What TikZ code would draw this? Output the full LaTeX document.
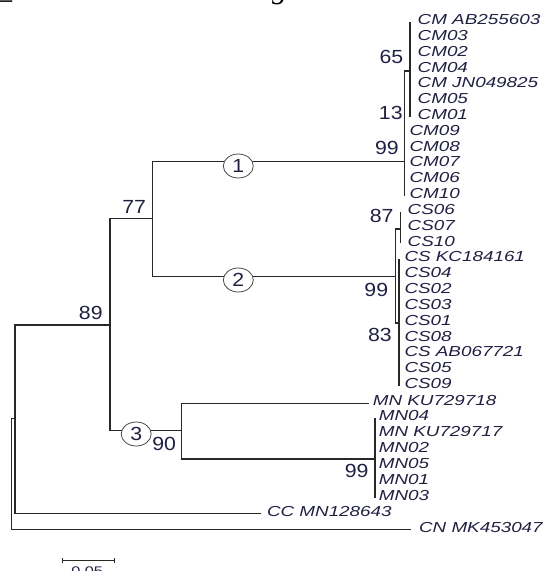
\documentclass[tikz,border=0pt]{standalone}
\usepackage{fontspec}
\setmainfont{Liberation Serif}
\newfontfamily\leaffont[FakeStretch=1.3]{Liberation Sans}
\newfontfamily\bootfont[FakeStretch=1.12]{Liberation Sans}
\usepackage{tikz}
\usetikzlibrary{shapes.geometric,arrows.meta}
\definecolor{txt}{RGB}{32,32,66}
\definecolor{branch}{RGB}{40,40,40}

\begin{document}
\begin{tikzpicture}[x=1pt,y=-1pt,
        br/.style={draw=branch,line width=1.1pt},
        leaf/.style={font=\leaffont\itshape\fontsize{14.5}{16}\selectfont,text=txt,inner sep=0pt,anchor=west,text height=10.4pt,text depth=5.2pt},
        boot/.style={font=\bootfont\fontsize{19}{21}\selectfont,text=txt,inner sep=0pt},
        clade/.style={boot,ellipse,draw=branch!85,line width=0.8pt,fill=white,minimum width=30pt,minimum height=24pt}]
        \useasboundingbox (0,0) rectangle (545,571);
        \begin{scope}
        \clip (0,0) rectangle (545,571);
        % caption line cut off at the top
        \node[anchor=south west,inner sep=0pt,text height=20pt,text depth=7pt,font=\fontsize{30}{32}\selectfont] (cap) at (-3,5.5) {\_KU729718 và \textit{M. neogamma}};
        % inner nodes
        \coordinate (nR) at (11.7,418.3);
        \coordinate (nA) at (15,418.3);
        \coordinate (nB) at (110,325);
        \coordinate (nC) at (152.7,218.3);
        \coordinate (nD) at (404.5,161.7);
        \coordinate (nD1) at (410,71);
        \coordinate (nE) at (395.3,276.7);
        \coordinate (nE1) at (400.7,229);
        \coordinate (nE2) at (399,323);
        \coordinate (nF) at (181.7,430.5);
        \coordinate (nF1) at (375,459);
        % leaves
        \foreach \lab [count=\k from 0] in {CM AB255603,CM03,CM02,CM04,CM JN049825,CM05,CM01}
            \node[leaf] (cm\k) at (417.5,22+15.82*\k) {\lab};
        \foreach \lab [count=\k from 7] in {CM09,CM08,CM07,CM06,CM10}
            \node[leaf] (cm\k) at (409.3,22+15.82*\k) {\lab};
        \foreach \lab [count=\k from 12] in {CS06,CS07,CS10}
            \node[leaf] (cs\k) at (407.5,22+15.82*\k) {\lab};
        \foreach \lab [count=\k from 15] in {CS KC184161,CS04,CS02,CS03,CS01,CS08,CS AB067721,CS05,CS09}
            \node[leaf] (cs\k) at (404.3,22+15.82*\k) {\lab};
        \foreach \lab [count=\k from 0] in {MN04,MN KU729717,MN02,MN05,MN01,MN03}
            \node[leaf] (mn\k) at (378.6,418+16*\k) {\lab};
        \node[leaf] (mnA) at (372.6,403.3) {MN KU729718};
        \node[leaf] (cc) at (266.8,513.5) {CC MN128643};
        \node[leaf] (cn) at (418.9,529.5) {CN MK453047};
        % branches
        \draw[br] (nA) -- (nR) |- ([xshift=-8pt]cn.west);
        \draw[br] (nA) |- (nB);
        \draw[br] (nA) |- ([xshift=-6pt]cc.west);
        \draw[br] (nB) |- (nC);
        \draw[br] (nB) |- (nF);
        \draw[br] (nC) |- (nD);
        \draw[br] (nC) |- (nE);
        \draw[br] (nD) |- (nD1);
        \draw[br] (nD) -- (nD |- cm11.west);
        \draw[br] (nD1 |- cm0.west) -- (nD1 |- cm6.west);
        \draw[br] (nE) |- (nE1);
        \draw[br] (nE) |- (nE2);
        \draw[br] (nE1 |- cs12.west) -- (nE1 |- cs14.west);
        \draw[br] (nE2 |- cs15.west) -- (nE2 |- cs23.west);
        \draw[br] (nF) |- ([xshift=-4pt]mnA.west);
        \draw[br] (nF) |- (nF1);
        \draw[br] (nF1 |- mn0.west) -- (nF1 |- mn5.west);
        % clades
        \node[clade] (k1) at (238.3,166) {1};
        \node[clade] (k2) at (238.3,280) {2};
        \node[clade] (k3) at (136.2,434) {3};
        % bootstrap values
        \node[boot] (b65) at (391.5,57.2) {65};
        \node[boot] (b13) at (390.8,113) {13};
        \node[boot] (b99cm) at (387,148.3) {99};
        \node[boot] (b87) at (381.7,216) {87};
        \node[boot] (b99cs) at (376.3,290.3) {99};
        \node[boot] (b83) at (380,335) {83};
        \node[boot] (b77) at (134.2,206.7) {77};
        \node[boot] (b89) at (90.8,312.5) {89};
        \node[boot] (b90) at (164.2,443.7) {90};
        \node[boot] (b99mn) at (356.7,471.2) {99};
        % scale bar
        \coordinate (s0) at (62,560.8);
        \coordinate (s1) at (114.7,560.8);
        \draw[br,line width=0.9pt,{Bar[width=5pt]}-{Bar[width=5pt]}] (s0) -- (s1);
        \node[boot,font=\leaffont\fontsize{12.5}{14}\selectfont] (sl) at (87.1,571.3) {0.05};
        \end{scope}
    \end{tikzpicture}
\end{document}
